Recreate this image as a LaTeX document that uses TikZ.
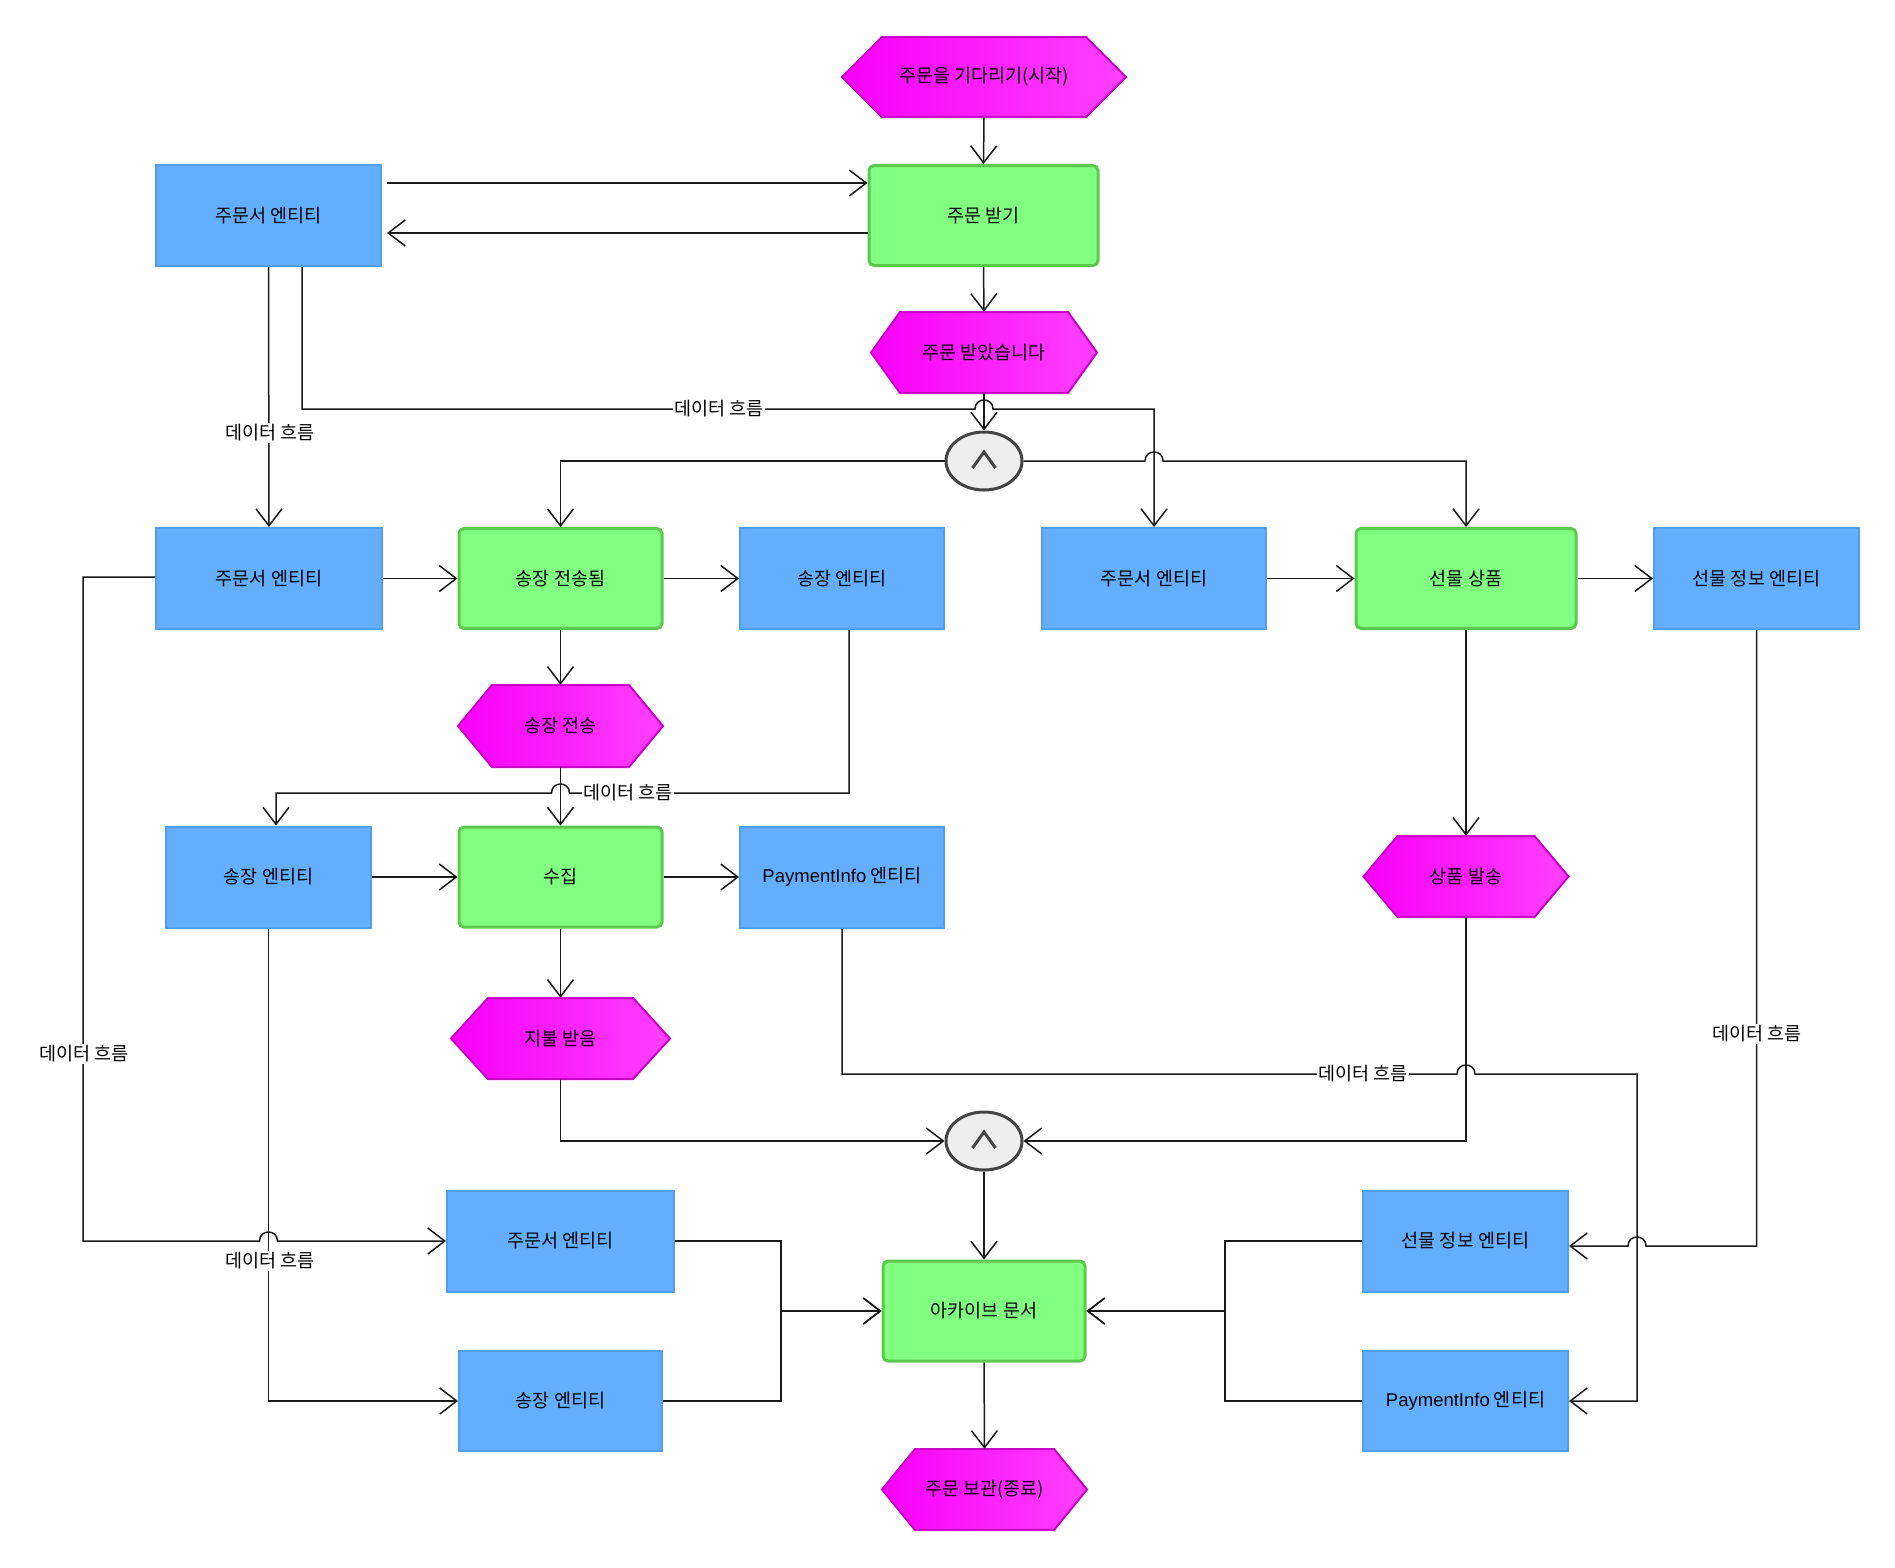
\documentclass[tikz,border=0pt]{standalone}
\usepackage{fontspec}
\setmainfont{Noto Sans CJK KR}
\newfontfamily\dglatin{Liberation Sans}
\usetikzlibrary{arrows.meta,calc,shapes.geometric}
\definecolor{entF}{HTML}{63AEFF}
\definecolor{entB}{HTML}{519EF0}
\definecolor{grnF}{HTML}{80FF80}
\definecolor{grnB}{HTML}{5CC94E}
\definecolor{hexL}{HTML}{F800F8}
\definecolor{hexR}{HTML}{FF40FF}
\definecolor{hexB}{HTML}{C800C8}
\definecolor{andF}{HTML}{EEEEEE}
\definecolor{andB}{HTML}{444444}
\definecolor{lineC}{HTML}{1A1A1A}
\newcommand\dgnodefont{\fontsize{18.5}{22}\selectfont}
\newcommand\dglblfont{\fontsize{18.5}{22}\selectfont}
\tikzset{
  ent/.style={draw=entB, fill=entF, line width=2pt, minimum width=#1, minimum height=101pt, inner sep=0pt, font=\dgnodefont},
  grn/.style={draw=grnB, fill=grnF, line width=3pt, rounded corners=5pt, minimum width=#1, minimum height=100pt, inner sep=0pt, font=\dgnodefont},
  hexshape/.style={draw=hexB, line width=2pt, left color=hexL, right color=hexR},
  hexlabel/.style={draw=none, inner sep=0pt, font=\dgnodefont},
  andnode/.style={ellipse, draw=andB, fill=andF, line width=3pt, minimum width=76pt, minimum height=58pt, inner sep=0pt},
  caret/.style={draw=andB, line width=3pt},
  conn/.style={draw=lineC, line width=1.5pt, line join=miter, -{Straight Barb[length=17pt,width=26pt]}},
  lbl/.style={fill=white, inner sep=1.5pt, font=\dglblfont}
}
% name, cx, cy, w, h, inset, text
\newcommand\hexa[7]{%
  \path[hexshape] ({#2-#4/2},#3) -- ({#2-#4/2+#6},{#3-#5/2}) -- ({#2+#4/2-#6},{#3-#5/2}) -- ({#2+#4/2},#3) -- ({#2+#4/2-#6},{#3+#5/2}) -- ({#2-#4/2+#6},{#3+#5/2}) -- cycle;
  \node[hexlabel, minimum width=#4pt, minimum height=#5pt] (#1) at (#2,#3) {#7};
}
\begin{document}
\begin{tikzpicture}[x=1pt,y=-1pt]
\useasboundingbox (0,0) rectangle (1895,1567);
\fill[white] (0,0) rectangle (1895,1567);

% hexagons
\hexa{h1}{984}{77}{284}{80}{40}{주문을 기다리기(시작)}
\hexa{h2}{984}{352.5}{226}{81}{29}{주문 받았습니다}
\hexa{h3}{560.5}{726}{205}{82}{34}{송장 전송}
\hexa{h4}{560.5}{1038.5}{219}{81}{37}{지불 받음}
\hexa{h5}{1466}{876.5}{205}{81}{34}{상품 발송}
\hexa{h6}{984.5}{1489.5}{205}{81}{33}{주문 보관(종료)}

% entities
\node[ent=225pt] (e1) at (268.5,215.5) {주문서 엔티티};
\node[ent=226pt] (e2) at (269,578.5) {주문서 엔티티};
\node[ent=204pt] (e3) at (842,578.5) {송장 엔티티};
\node[ent=224pt] (e4) at (1154,578.5) {주문서 엔티티};
\node[ent=205pt] (e5) at (1756.5,578.5) {선물 정보 엔티티};
\node[ent=205pt] (e6) at (268.5,877) {송장 엔티티};
\node[ent=204pt] (e7) at (842,877) {{\dglatin PaymentInfo} 엔티티};
\node[ent=227pt] (e8) at (560.5,1241) {주문서 엔티티};
\node[ent=203pt, minimum height=100pt] (e9) at (560.5,1401) {송장 엔티티};
\node[ent=205pt] (e10) at (1465.5,1241) {선물 정보 엔티티};
\node[ent=205pt, minimum height=100pt] (e11) at (1465.5,1401) {{\dglatin PaymentInfo} 엔티티};

% green process boxes
\node[grn=229pt] (g1) at (983.5,215.5) {주문 받기};
\node[grn=203pt] (g2) at (560.5,578.5) {송장 전송됨};
\node[grn=220pt] (g3) at (1466,578.5) {선물 상품};
\node[grn=203pt] (g4) at (560.5,877) {수집};
\node[grn=202pt] (g5) at (984,1311) {아카이브 문서};

% AND connectors
\node[andnode] (a1) at (984,461) {};
\node[andnode] (a2) at (984,1141) {};
\draw[caret] ($(a1.center)+(-11.5,7)$) -- ($(a1.center)+(0,-9)$) -- ($(a1.center)+(11.5,7)$);
\draw[caret] ($(a2.center)+(-11.5,7)$) -- ($(a2.center)+(0,-9)$) -- ($(a2.center)+(11.5,7)$);

% connectors
\draw[conn] (h1.south) -- (g1.north);
\draw[conn] ($(e1.east)+(5,-32.5)$) -- ($(g1.west)+(0,-32.5)$);
\draw[conn] ($(g1.west)+(0,17.5)$) -- ($(e1.east)+(5,17.5)$);
\draw[conn] (g1.south) -- (h2.north);
\draw[conn] (h2.south) -- (a1.north);
\draw[conn] (e1.south) -- (e2.north);
\draw[conn] ($(e1.south)+(33.5,0)$) -- (302,409) -- (975,409) .. controls (975,397) and (993,397) .. (993,409) -- (1154,409) -- (e4.north);
\draw[conn] (a1.west) -| (g2.north);
\draw[conn] (a1.east) -- (1145,461) .. controls (1145,449) and (1163,449) .. (1163,461) -- (1466,461) -- (g3.north);
\draw[conn] (e2.east) -- (g2.west);
\draw[conn] (g2.east) -- (e3.west);
\draw[conn] (e4.east) -- (g3.west);
\draw[conn] (g3.east) -- (e5.west);
\draw[conn] (g2.south) -- (h3.north);
\draw[conn] ($(e3.south)+(7,0)$) -- (849,793) -- (569.5,793) .. controls (569.5,781) and (551.5,781) .. (551.5,793) -- (276,793) -- ($(e6.north)+(7.5,0)$);
\draw[conn] (h3.south) -- (g4.north);
\draw[conn] (e6.east) -- (g4.west);
\draw[conn] (g4.east) -- (e7.west);
\draw[conn] (g4.south) -- (h4.north);
\draw[conn] (h4.south) |- (a2.west);
\draw[conn] (h5.south) |- (a2.east);
\draw[conn] (g3.south) -- (h5.north);
\draw[conn] (e7.south) -- (842,1074) -- (1457,1074) .. controls (1457,1062) and (1475,1062) .. (1475,1074) -- (1637,1074) -- (1637,1401) -- (e11.east);
\draw[conn] (e5.south) -- (1756.5,1246) -- (1646,1246) .. controls (1646,1234) and (1628,1234) .. (1628,1246) -- ($(e10.east)+(0,5)$);
\draw[conn] ($(e2.west)+(0,-1.5)$) -- (83,577) -- (83,1241) -- (259.5,1241) .. controls (259.5,1229) and (277.5,1229) .. (277.5,1241) -- (e8.west);
\draw[conn] (e6.south) |- (e9.west);
\draw[conn] (a2.south) -- (g5.north);
\draw[conn] (e8.east) -- (781,1241) -- (781,1311) -- (g5.west);
\draw[conn] (e9.east) -- (781,1401) -- (781,1311) -- (g5.west);
\draw[conn] (e10.west) -- (1225,1241) -- (1225,1311) -- (g5.east);
\draw[conn] (e11.west) -- (1225,1401) -- (1225,1311) -- (g5.east);
\draw[conn] (g5.south) -- (h6.north);

% labels
\node[lbl] (l1) at (719,409) {데이터 흐름};
\node[lbl] (l2) at (270,433) {데이터 흐름};
\node[lbl] (l3) at (628,793) {데이터 흐름};
\node[lbl] (l4) at (1363,1074) {데이터 흐름};
\node[lbl] (l5) at (1757,1034) {데이터 흐름};
\node[lbl] (l6) at (84,1054) {데이터 흐름};
\node[lbl] (l7) at (270,1261) {데이터 흐름};
\end{tikzpicture}
\end{document}
